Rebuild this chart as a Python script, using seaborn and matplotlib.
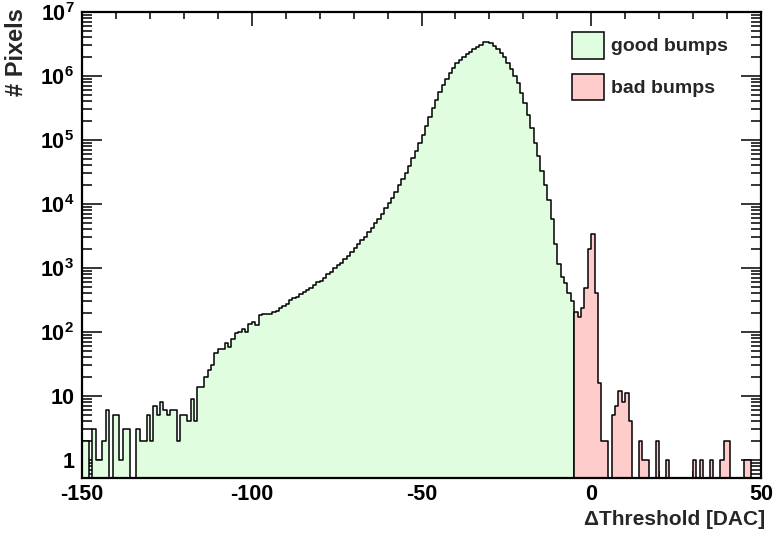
import numpy as np
import pandas as pd
import seaborn as sns
import matplotlib
matplotlib.use("Agg")
import matplotlib.pyplot as plt
from matplotlib.ticker import FixedLocator, FuncFormatter, MultipleLocator, LogLocator, NullFormatter
from matplotlib.patches import Patch

# ---- data (1-DAC bins) ----
good_start = -150   # bins -150 .. -6
good_counts = [
    2, 2, 0, 3, 1, 1, 2, 6, 0, 5,
    5, 1, 3, 3, 0, 0, 3, 2, 2, 5,
    2, 7, 5, 8, 6, 5, 6, 6, 2, 5,
    5, 4, 9, 4, 14, 14, 20, 25, 30, 47,
    54, 54, 68, 58, 77, 95, 100, 110, 100, 133,
    145, 128, 182, 190, 190, 192, 208, 215, 240, 255,
    275, 316, 336, 355, 387, 416, 450, 493, 540, 600,
    635, 690, 790, 870, 1000, 1110, 1200, 1365, 1535, 1780,
    2040, 2340, 2690, 3090, 3630, 4270, 5010, 5890, 7080, 8510,
    10200, 12600, 15500, 19500, 24500, 30900, 39800, 51300, 67600, 89100,
    120000, 166000, 229000, 316000, 427000, 562000, 724000, 912000, 1120000, 1350000,
    1580000, 1780000, 2000000, 2180000, 2400000, 2630000, 2820000, 3090000, 3390000, 3390000,
    3240000, 2950000, 2600000, 2250000, 1950000, 1600000, 1270000, 1000000, 770000, 550000,
    375000, 246000, 152000, 91000, 56000, 33000, 20000, 11500, 5800, 2400,
    1150, 730, 575, 400, 300,
]
bad_start = -5      # bins -5 .. 49
bad_counts = [
    205, 170, 240, 480, 2000, 3350, 410, 16, 2, 2,
    0, 5, 7, 12, 8, 11, 4, 0, 0, 2,
    1, 1, 0, 0, 2, 0, 0, 1, 0, 0,
    0, 0, 0, 0, 0, 1, 0, 1, 0, 0,
    1, 0, 0, 1, 2, 2, 0, 0, 0, 0,
    1, 1, 0, 0, 0,
]
labels = ["good bumps", "bad bumps"]
x_ticks = [-150, -100, -50, 0, 50]

good_centers = good_start + 0.5 + np.arange(len(good_counts))
bad_centers = bad_start + 0.5 + np.arange(len(bad_counts))
good_df = pd.DataFrame({"x": good_centers, "w": good_counts})
bad_df = pd.DataFrame({"x": bad_centers, "w": bad_counts})

green = "#e0fde0"
red = "#ffcccc"

sns.set_style("ticks")
plt.rcParams["font.family"] = ["Liberation Sans", "DejaVu Sans"]
plt.rcParams["font.weight"] = "bold"
plt.rcParams["mathtext.fontset"] = "custom"
plt.rcParams["mathtext.rm"] = "Liberation Sans:bold"
plt.rcParams["mathtext.bf"] = "Liberation Sans:bold"
plt.rcParams["mathtext.it"] = "Liberation Sans:bold"
plt.rcParams["mathtext.default"] = "rm"

fig = plt.figure(figsize=(7.75, 5.39), dpi=100)
ax = fig.add_axes([82 / 775, 1 - 478 / 539, 679 / 775, 466 / 539])

sns.histplot(data=good_df, x="x", weights="w", binwidth=1,
             binrange=(good_start, good_start + len(good_counts)), element="step",
             fill=True, color=green, alpha=1, edgecolor="black", linewidth=1.1, ax=ax)
sns.histplot(data=bad_df, x="x", weights="w", binwidth=1,
             binrange=(bad_start, bad_start + len(bad_counts)), element="step",
             fill=True, color=red, alpha=1, edgecolor="black", linewidth=1.1, ax=ax)

ax.set_yscale("log", nonpositive="clip")
ax.set_xlim(-150, 50)
ax.set_ylim(0.52, 1.0e7)

ax.xaxis.set_major_locator(FixedLocator(x_ticks))
ax.xaxis.set_minor_locator(MultipleLocator(10))
ax.yaxis.set_major_locator(LogLocator(base=10, numticks=20))
ax.yaxis.set_minor_locator(LogLocator(base=10, subs=np.arange(2, 10), numticks=100))
ax.yaxis.set_minor_formatter(NullFormatter())


def yfmt(v, pos):
    n = int(round(np.log10(v)))
    if n == 0:
        return "1"
    if n == 1:
        return "10"
    return r"$10^{%d}$" % n


ax.yaxis.set_major_formatter(FuncFormatter(yfmt))
ax.xaxis.set_major_formatter(FuncFormatter(lambda v, p: "%d" % v))
ax.xaxis.get_offset_text().set_visible(False)
ax.yaxis.get_offset_text().set_visible(False)

for s in ax.spines.values():
    s.set_visible(True)
    s.set_linewidth(1.6)
    s.set_color("black")

ax.tick_params(axis="both", which="both", direction="in", top=True, right=True,
               colors="black", width=1.1, labelsize=15.5)
ax.tick_params(axis="x", which="major", length=10, pad=4.5)
ax.tick_params(axis="x", which="minor", length=5)
ax.tick_params(axis="y", which="major", length=14.5, pad=5.5)
ax.tick_params(axis="y", which="minor", length=7.2)
for lab in ax.get_xticklabels() + ax.get_yticklabels():
    lab.set_fontweight("bold")

ax.set_xlabel("ΔThreshold [DAC]", fontsize=15, fontweight="bold", loc="right")
ax.set_ylabel("# Pixels", fontsize=17, fontweight="bold", loc="top")
ax.xaxis.set_label_coords(1.006, -0.069)
ax.yaxis.set_label_coords(-0.080, 1.008)

handles = [Patch(facecolor=green, edgecolor="black", linewidth=1.1),
           Patch(facecolor=red, edgecolor="black", linewidth=1.1)]
ax.legend(handles, labels, loc="upper left", bbox_to_anchor=(0.7212, 0.9577),
          frameon=False, borderpad=0, borderaxespad=0, handlelength=1.65,
          handleheight=1.75, handletextpad=0.38, labelspacing=0.77,
          prop={"family": "Liberation Sans", "weight": "bold", "size": 14})

fig.savefig("out.png", dpi=100)
